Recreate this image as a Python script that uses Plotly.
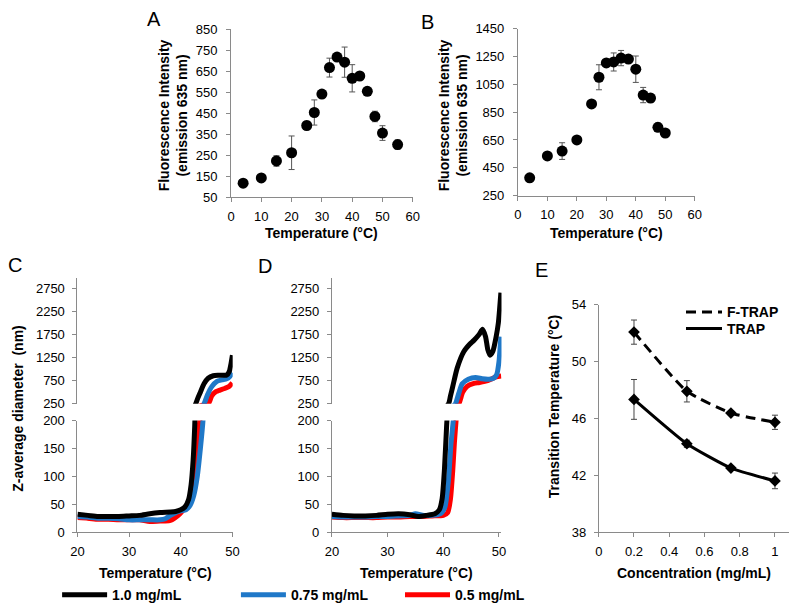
import plotly.graph_objects as go

# ---------------- data ----------------
# Panel A
a_temp = [4, 10, 15, 20, 25, 27.5, 30, 32.5, 35, 37.5, 40, 42.5, 45, 47.5, 50, 55]
a_fluor = [117, 142, 223, 262, 392, 454, 542, 668, 718, 694, 617, 628, 555, 435, 356, 301]
a_err = [0, 0, 25, 80, 20, 60, 0, 45, 0, 72, 65, 0, 0, 25, 35, 22]

# Panel B
b_temp = [4, 10, 15, 20, 25, 27.5, 30, 32.5, 35, 37.5, 40, 42.5, 45, 47.5, 50]
b_fluor = [378, 535, 570, 650, 909, 1101, 1204, 1211, 1239, 1232, 1159, 973, 951, 741, 700]
b_err = [0, 0, 60, 0, 0, 90, 0, 65, 55, 0, 95, 55, 30, 30, 0]

# Panel C (DLS, Z-average diameter)
c_temp_10 = [20, 22, 24, 26, 28, 30, 32, 34, 36, 38, 39, 40, 40.8, 41.5, 42, 42.4, 42.7, 42.9,
             43.3, 43.8, 44.5, 45.3, 46.3, 47.3, 48.3, 48.9, 49.4, 49.7, 50.0]
c_z_10 = [32, 30, 28, 28, 28, 29, 30, 33, 35, 36, 37, 40, 45, 58, 85, 130, 190, 250,
          370, 500, 680, 800, 855, 865, 868, 872, 950, 1100, 1300]
c_temp_075 = [20, 22, 24, 26, 28, 30, 32, 34, 36, 37, 38, 39, 40, 41, 41.8, 42.5, 43.2, 43.8, 44.3,
              44.6, 45.2, 46.0, 47.0, 48.0, 48.9, 49.5, 50.0]
c_z_075 = [28, 27, 25, 25, 24, 22, 22, 22, 22, 24, 30, 35, 38, 40, 48, 65, 100, 150, 200,
           270, 450, 620, 735, 765, 790, 840, 920]
c_temp_05 = [20, 22, 24, 26, 28, 30, 32, 34, 36, 37, 38, 38.8, 39.5, 40.5, 41.5, 42.3, 43.0, 43.7,
             44.5, 45.4, 46.0, 46.8, 47.6, 48.5, 49.3, 50.0]
c_z_05 = [26, 25, 23, 23, 22, 22, 22, 19, 20, 20, 21, 25, 30, 40, 50, 70, 120, 200,
          225, 260, 420, 510, 545, 580, 620, 700]

# Panel D
d_temp_10 = [20, 22, 24, 26, 28, 30, 32, 34, 35.5, 37, 38.5, 39.3, 39.8, 40.2, 40.6, 41.0, 41.3,
             41.7, 42.5, 43.7, 44.7, 45.5, 46.4, 47.05, 47.6, 48.0, 48.4, 48.9, 49.5, 49.9, 50.35]
d_z_10 = [32, 30, 29, 29, 30, 32, 33, 31, 28, 30, 33, 40, 60, 110, 190, 260, 420,
          620, 1020, 1380, 1530, 1620, 1740, 1860, 1700, 1420, 1300, 1380, 1700, 2000, 2650]
d_temp_075 = [20, 22, 24, 26, 28, 30, 32, 34, 35, 36.5, 38, 39.5, 40.3, 40.9, 41.4, 41.8, 42.2,
              42.8, 43.4, 44.5, 45.8, 47.0, 48.2, 49.0, 49.6, 50.0, 50.35]
d_z_075 = [28, 27, 27, 27, 28, 28, 29, 30, 33, 30, 30, 33, 45, 90, 160, 200, 250,
           480, 680, 780, 820, 790, 780, 800, 880, 1150, 1700]
d_temp_05 = [20, 22, 24, 26, 28, 30, 32, 34, 36, 38, 40, 40.8, 41.3, 41.7, 42.0, 42.3, 42.8,
             43.5, 44.3, 45.5, 46.5, 48.0, 49.5, 50.4]
d_z_05 = [27, 26, 26, 26, 26, 27, 27, 28, 28, 29, 30, 35, 60, 110, 160, 200, 250,
          500, 630, 690, 710, 750, 830, 850]

# Panel E
e_conc = [0.2, 0.5, 0.75, 1.0]
e_ftrap = [52.06, 47.9, 46.37, 45.72]
e_ftrap_err = [0.85, 0.75, 0.15, 0.5]
e_trap = [47.33, 44.21, 42.5, 41.6]
e_trap_err = [1.4, 0.25, 0.15, 0.55]

series_names = ["1.0 mg/mL", "0.75 mg/mL", "0.5 mg/mL"]
series_colors = ["#000000", "#1f78c8", "#ff0000"]
series_legends = ["legend", "legend3", "legend4"]

# ---------------- helpers ----------------
W, H = 800, 612
FONT = "Liberation Sans, Arial, sans-serif"
AXC = "#8a8a8a"


def fx(p):
    return p / W


def fy(p):
    return 1 - p / H


def dom_x(a, b):
    return [fx(a), fx(b)]


def dom_y(top, bottom):
    return [fy(bottom), fy(top)]


def axis_style(standoff, **kw):
    d = dict(showline=True, linecolor=AXC, linewidth=1, ticks="outside", ticklen=4,
             tickcolor=AXC, tickwidth=1, showgrid=False, zeroline=False,
             ticklabelstandoff=standoff,
             tickfont=dict(family=FONT, size=13, color="black"), fixedrange=True)
    d.update(kw)
    return d


fig = go.Figure()

# Panel A
fig.add_trace(go.Scatter(x=a_temp, y=a_fluor, mode="markers", xaxis="x", yaxis="y",
                         marker=dict(color="black", size=11),
                         error_y=dict(type="data", array=a_err, color="#555555", thickness=1, width=3),
                         showlegend=False))
# Panel B
fig.add_trace(go.Scatter(x=b_temp, y=b_fluor, mode="markers", xaxis="x2", yaxis="y2",
                         marker=dict(color="black", size=11),
                         error_y=dict(type="data", array=b_err, color="#555555", thickness=1, width=3),
                         showlegend=False))

# Panels C and D: each curve on lower and upper (broken) axes
c_series = [(c_temp_10, c_z_10), (c_temp_075, c_z_075), (c_temp_05, c_z_05)]
d_series = [(d_temp_10, d_z_10), (d_temp_075, d_z_075), (d_temp_05, d_z_05)]
for i in [2, 1, 0]:
    name, col = series_names[i], series_colors[i]
    for (xs, ys), xa, ylow, yup, leg in [(c_series[i], "x3", "y3", "y4", True),
                                          (d_series[i], "x4", "y5", "y6", False)]:
        for ya, show in [(ylow, leg), (yup, False)]:
            fig.add_trace(go.Scatter(x=xs, y=ys, mode="lines", xaxis=xa, yaxis=ya,
                                     line=dict(color=col, width=5, shape="spline", smoothing=0.6),
                                     name=name, showlegend=show, legend=series_legends[i]))

# Panel E
fig.add_trace(go.Scatter(x=e_conc, y=e_ftrap, mode="lines", xaxis="x5", yaxis="y7",
                         line=dict(color="black", width=3, dash="10px,6px", shape="spline", smoothing=0.5),
                         name="F-TRAP", legend="legend5"))
fig.add_trace(go.Scatter(x=e_conc, y=e_trap, mode="lines", xaxis="x5", yaxis="y7",
                         line=dict(color="black", width=3, shape="spline", smoothing=0.5),
                         name="TRAP", legend="legend6"))
fig.add_trace(go.Scatter(x=e_conc, y=e_ftrap, mode="markers", xaxis="x5", yaxis="y7",
                         marker=dict(color="black", size=9, symbol="diamond"),
                         error_y=dict(type="data", array=e_ftrap_err, color="#444444", thickness=1, width=3),
                         showlegend=False))
fig.add_trace(go.Scatter(x=e_conc, y=e_trap, mode="markers", xaxis="x5", yaxis="y7",
                         marker=dict(color="black", size=9, symbol="diamond"),
                         error_y=dict(type="data", array=e_trap_err, color="#444444", thickness=1, width=3),
                         showlegend=False))

low_top, low_bot = 424, 538.3
up_top, up_bot = 278, 406.7

legfont = dict(family=FONT, size=14, color="black", weight="bold")


def leg(x, y, iw=45):
    return dict(x=fx(x), y=fy(y), xanchor="left", yanchor="middle", font=legfont,
                itemwidth=iw, bgcolor="rgba(0,0,0,0)", borderwidth=0)


fig.update_layout(
    width=W, height=H, margin=dict(l=0, r=0, t=0, b=0),
    paper_bgcolor="white", plot_bgcolor="white",
    font=dict(family=FONT, size=13, color="black"),
    # A
    xaxis=axis_style(3, domain=dom_x(228, 413), range=[0, 60], dtick=10, tick0=0, anchor="y"),
    yaxis=axis_style(6, domain=dom_y(23, 195), range=[50, 850], dtick=100, tick0=50, anchor="x"),
    # B
    xaxis2=axis_style(3, domain=dom_x(520, 700), range=[0, 60], dtick=10, tick0=0, anchor="y2"),
    yaxis2=axis_style(6, domain=dom_y(22.3, 193.3), range=[250, 1450], dtick=200, tick0=250, anchor="x2"),
    # C
    xaxis3=axis_style(3, domain=dom_x(71.7, 229.7), range=[20, 50.05], dtick=10, tick0=20, anchor="y3"),
    yaxis3=axis_style(5, domain=dom_y(low_top, low_bot), range=[0, 200], dtick=50, tick0=0, anchor="x3"),
    yaxis4=axis_style(5, domain=dom_y(up_top, up_bot), range=[250, 2965], dtick=500, tick0=250, anchor="x3"),
    # D
    xaxis4=axis_style(3, domain=dom_x(330.7, 503.3), range=[20, 50.46], dtick=10, tick0=20, anchor="y5"),
    yaxis5=axis_style(5, domain=dom_y(low_top, low_bot), range=[0, 200], dtick=50, tick0=0, anchor="x4"),
    yaxis6=axis_style(5, domain=dom_y(up_top, up_bot), range=[250, 2965], dtick=500, tick0=250, anchor="x4"),
    # E
    xaxis5=axis_style(3, domain=dom_x(602.3, 796), range=[0, 1.08], dtick=0.2, tick0=0, anchor="y7"),
    yaxis7=axis_style(5, domain=dom_y(305, 538.3), range=[38, 54], dtick=4, tick0=38, anchor="x5"),
    legend=leg(51, 603),
    legend3=leg(233, 603),
    legend4=leg(400, 603),
    legend5=leg(686, 313, iw=36),
    legend6=leg(686, 330, iw=36),
)

bold = dict(family=FONT, size=14, color="black", weight="bold")
annots = [
    # axis titles
    dict(text="Fluorescence Intensity<br>(emission 635 nm)", x=fx(169), y=fy(111), textangle=-90, font=bold),
    dict(text="Fluorescence Intensity<br>(emission 635 nm)", x=fx(454), y=fy(111), textangle=-90, font=bold),
    dict(text="Temperature (°C)", x=fx(320), y=fy(232), font=bold),
    dict(text="Temperature (°C)", x=fx(610), y=fy(232), font=bold),
    dict(text="Z-average diameter \u00a0(nm)", x=fx(11), y=fy(411), textangle=-90, font=bold),
    dict(text="Temperature (°C)", x=fx(151), y=fy(580), font=bold),
    dict(text="Temperature (°C)", x=fx(417), y=fy(580), font=bold),
    dict(text="Transition Temperature (°C)", x=fx(557), y=fy(410), textangle=-90, font=bold),
    dict(text="Concentration (mg/mL)", x=fx(699), y=fy(580), font=bold),
    # panel letters
    dict(text="A", x=fx(150), y=fy(12), font=dict(family=FONT, size=20, color="black")),
    dict(text="B", x=fx(428), y=fy(15), font=dict(family=FONT, size=20, color="black")),
    dict(text="C", x=fx(8), y=fy(264), font=dict(family=FONT, size=20, color="black")),
    dict(text="D", x=fx(263), y=fy(265), font=dict(family=FONT, size=20, color="black")),
    dict(text="E", x=fx(544), y=fy(270), font=dict(family=FONT, size=20, color="black")),
]
for a in annots:
    a.update(xref="paper", yref="paper", showarrow=False, xanchor="center", yanchor="middle")
fig.update_layout(annotations=annots)

fig.write_html("out.html", config={"displayModeBar": False},
               post_script="document.body.style.margin='0px';")
